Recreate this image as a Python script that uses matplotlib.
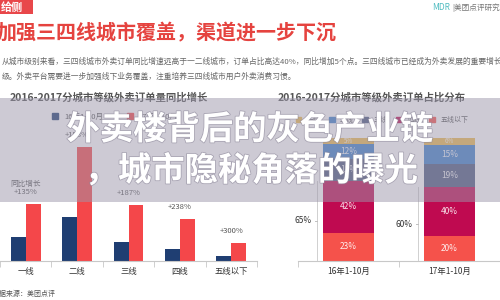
import matplotlib
matplotlib.use('Agg')
import matplotlib.pyplot as plt
import matplotlib.patheffects as pe
from matplotlib.patches import Rectangle, Patch
import numpy as np

plt.rcParams['font.family'] = ['Noto Sans CJK SC', 'DejaVu Sans']

# left chart: order volume by city tier
tiers = ['一线', '二线', '三线', '四线', '五线以下']
orders_16 = [24, 44, 19.5, 12.5, 4.6]
orders_17 = [57, 114, 56, 42.5, 18.5]
growth = ['+135%', '+158%', '+187%', '+238%', '+300%']

# right chart: share by city tier (%)
periods = ['16年1-10月', '17年1-10月']
share_16 = [5, 12, 18, 42, 23]
share_17 = [6, 15, 19, 40, 20]
tier_colors = ['#eebb4d', '#3f7fca', '#4d5a80', '#bf0a50', '#f5524b']

c16 = '#1f3e72'
c17 = '#f4474a'
grey = '#555555'

fig = plt.figure(figsize=(5, 3), dpi=100)
fig.patch.set_facecolor('white')

# header
fig.patches.append(Rectangle((0, 1 - 14/300), 33/500, 14/300, transform=fig.transFigure,
                             facecolor='#e8474a', edgecolor='none', zorder=1))
fig.text(1/500, 1 - 7.5/300, '给侧', color='white', fontsize=8, fontweight='bold',
         va='center', ha='left', zorder=3)
fig.text(-3/500, 1 - 33/300, '加强三四线城市覆盖，渠道进一步下沉', color='#e5433f',
         fontsize=14.4, fontweight='heavy', va='center', ha='left')
fig.text(432/500, 1 - 8/300, 'MDR', color='#4fbcc0', fontsize=6, va='center', ha='left')
fig.text(452/500, 1 - 8/300, '|美团点评研究', color='#777777', fontsize=5.5, va='center', ha='left')
fig.text(2/500, 1 - 62/300,
         '从城市级别来看，三四线城市外卖订单同比增速远高于一二线城市，订单占比高达40%，同比增加5个点。三四线城市已经成为外卖发展的重要增长',
         color='#666666', fontsize=5.6, va='center', ha='left')
fig.text(2/500, 1 - 77/300,
         '级。外卖平台需要进一步加强线下业务覆盖，注重培养三四线城市用户外卖消费习惯。',
         color='#666666', fontsize=5.6, va='center', ha='left')
fig.text(10/500, 1 - 97/300, '2016-2017分城市等级外卖订单量同比增长', color=grey,
         fontsize=7.5, fontweight='bold', va='center', ha='left', zorder=1)
fig.text(278/500, 1 - 97/300, '2016-2017分城市等级外卖订单占比分布', color=grey,
         fontsize=7.5, fontweight='bold', va='center', ha='left', zorder=1)
fig.text(-7/500, 1 - 294/300, '数据来源：美团点评', color=grey, fontsize=5,
         va='center', ha='left')

# left chart
ax = fig.add_axes([0, 0.13, 257/500, 161/300])
x = np.arange(len(tiers))
w = 0.29
ax.bar(x - w/2, orders_16, w, color=c16)
ax.bar(x + w/2, orders_17, w, color=c17)
for i, lab in enumerate(growth):
    ax.annotate(lab, (x[i], orders_17[i]), xytext=(0, 8.5), textcoords='offset points',
                ha='center', va='center', fontsize=5.5, color=grey)
ax.annotate('同比增长', (x[0], orders_17[0]), xytext=(0, 14.5), textcoords='offset points',
            ha='center', va='center', fontsize=5.5, color=grey)
ax.set_xlim(-0.5, len(tiers) - 0.5)
ax.set_ylim(0, 161)
ax.set_xticks(x)
ax.set_xticklabels(tiers, fontsize=6, color='#333333')
ax.set_xticks(np.arange(len(tiers) + 1) - 0.5, minor=True)
ax.tick_params(axis='x', which='major', length=0, pad=4)
ax.tick_params(axis='x', which='minor', length=4, color='#c8c8c8')
ax.set_yticks([])
for s in ['top', 'left', 'right']:
    ax.spines[s].set_visible(False)
ax.spines['bottom'].set_color('#c8c8c8')
ax.legend(handles=[Patch(color=c16, label='16年1-10月'), Patch(color=c17, label='17年1-10月')],
          ncol=2, frameon=False, fontsize=5.5, loc='center', handlelength=0.8,
          handleheight=0.8, columnspacing=3, bbox_to_anchor=(115/500, 1 - 117/300),
          bbox_transform=fig.transFigure, labelcolor=grey)
ax.patch.set_alpha(0)

# right chart
ax2 = fig.add_axes([298/500, 0.13, 202/500, 161/300])
xs = np.arange(len(periods))
bw = 0.5
for j, shares in enumerate([share_16, share_17]):
    bottom = 0
    for k in range(len(tiers) - 1, -1, -1):
        ax2.bar(xs[j], shares[k], bw, bottom=bottom, color=tier_colors[k])
        ax2.text(xs[j], bottom + shares[k] / 2, f'{shares[k]}%', ha='center', va='center',
                 fontsize=6 if shares[k] > 8 else 4.5, color='white', alpha=0.9)
        bottom += shares[k]
    low = shares[-1] + shares[-2]
    bx = xs[j] - 0.31
    ax2.plot([bx, bx], [0.5, low], color='#d0d0d0', lw=0.7)
    ax2.plot([bx - 0.02, bx], [low / 2, low / 2], color='#c0c0c0', lw=0.7)
    ax2.text(bx - 0.06, low / 2, f'{low}%', ha='right', va='center', fontsize=6, color='#333333')
ax2.set_xlim(-0.5, len(periods) - 0.5)
ax2.set_ylim(0, 161 / 1.233)
ax2.set_xticks(xs)
ax2.set_xticklabels(periods, fontsize=6, color='#333333')
ax2.set_xticks(np.arange(len(periods) + 1) - 0.5, minor=True)
ax2.tick_params(axis='x', which='major', length=0, pad=4)
ax2.tick_params(axis='x', which='minor', length=4, color='#c8c8c8')
ax2.set_yticks([])
for s in ['top', 'left', 'right']:
    ax2.spines[s].set_visible(False)
ax2.spines['bottom'].set_color('#c8c8c8')
ax2.legend(handles=[Patch(color=tier_colors[k], label=tiers[k]) for k in range(len(tiers))],
           ncol=5, frameon=False, fontsize=5, loc='center', handlelength=0.8,
           handleheight=0.8, columnspacing=1.2, bbox_to_anchor=(382/500, 1 - 120/300),
           bbox_transform=fig.transFigure, labelcolor=grey)
ax2.patch.set_alpha(0)

# grey band and overlay caption
fig.patches.append(Rectangle((0, 1 - 202/300), 1, 104/300, transform=fig.transFigure,
                             facecolor='#9c97ab', alpha=0.5, edgecolor='none', zorder=2))
shadow = [pe.withStroke(linewidth=1.2, foreground='#8f8a9c', alpha=0.6)]
fig.text(0.5, 1 - 130/300, '外卖楼背后的灰色产业链', color='white', fontsize=24,
         fontweight='heavy', ha='center', va='center', zorder=5, path_effects=shadow)
fig.text(0.503, 1 - 171/300, '，城市隐秘角落的曝光', color='white', fontsize=24,
         fontweight='heavy', ha='center', va='center', zorder=5, path_effects=shadow)

fig.savefig('out.png', dpi=100)
